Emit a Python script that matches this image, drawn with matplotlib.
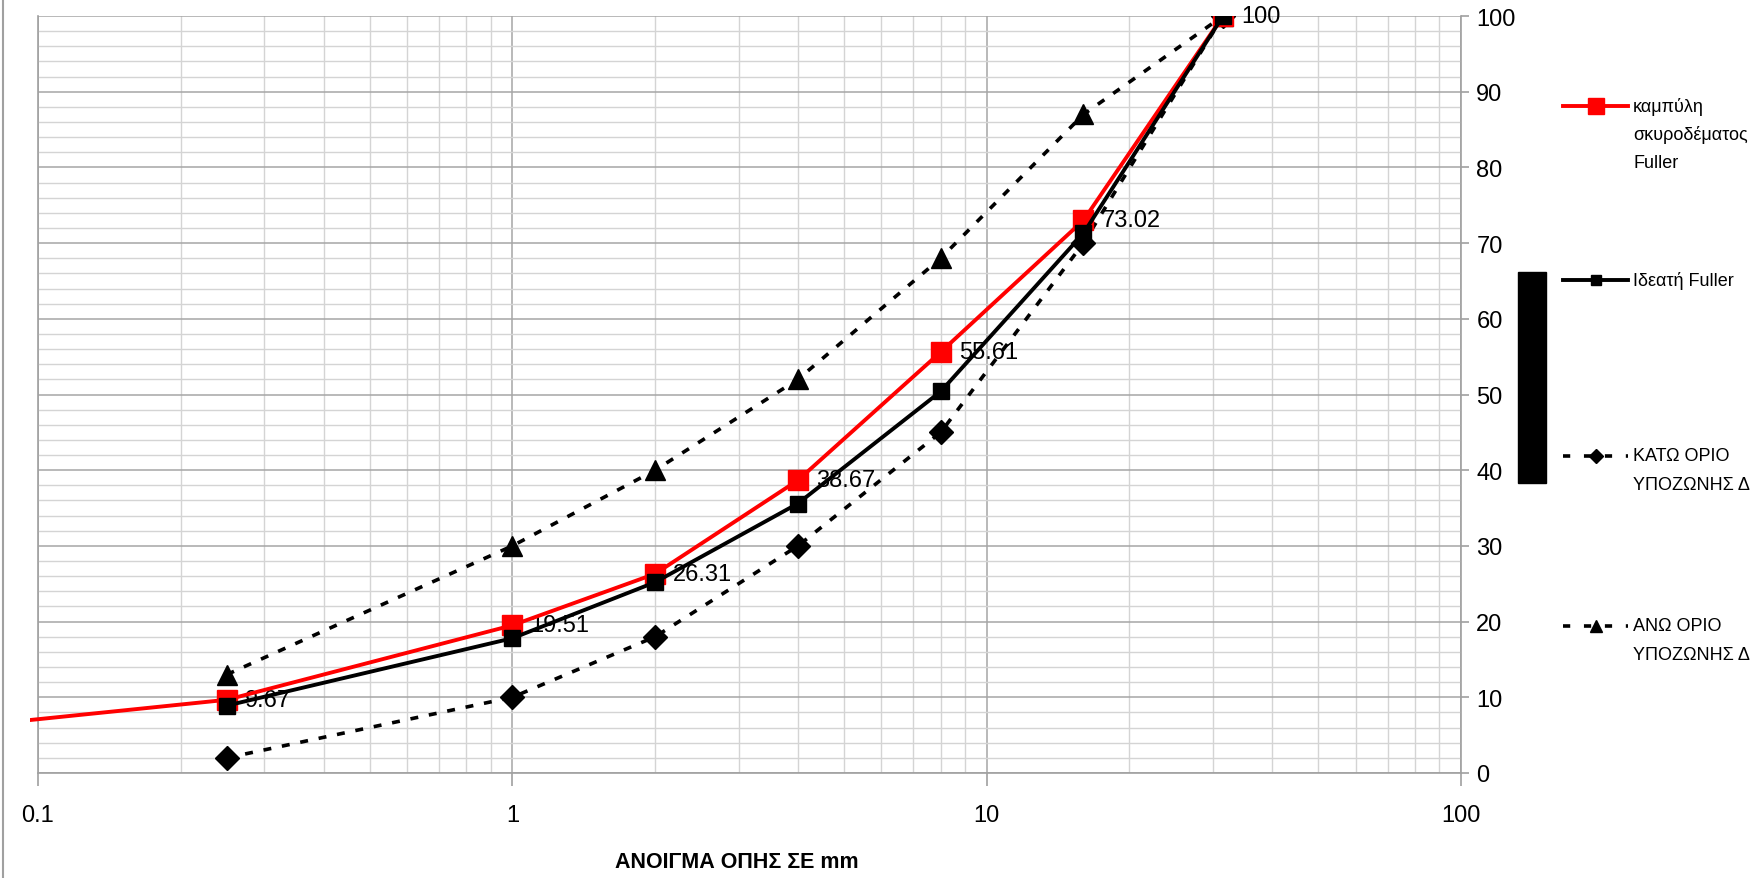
import numpy as np
import matplotlib
matplotlib.use("Agg")
import matplotlib.pyplot as plt
from matplotlib.lines import Line2D
from matplotlib.patches import Rectangle
from matplotlib.ticker import LogLocator, MultipleLocator, FixedLocator, FixedFormatter

plt.rcParams['font.family'] = ['Liberation Sans', 'DejaVu Sans']

# ανοίγματα κοσκίνων (mm)
kosk_mm = [0.25, 1, 2, 4, 8, 16, 31.5]
kosk_skyr = [0.075, 0.25, 1, 2, 4, 8, 16, 31.5]

skyrodema = [6.3, 9.67, 19.51, 26.31, 38.67, 55.61, 73.02, 100]
ideati_fuller = [8.9, 17.8, 25.2, 35.6, 50.4, 71.3, 100]
kato_orio = [2, 10, 18, 30, 45, 70, 100]
ano_orio = [13, 30, 40, 52, 68, 87, 100]

etiketes = ['9.67', '19.51', '26.31', '38.67', '55.61', '73.02', '100']

W, H = 1751, 879
fig = plt.figure(figsize=(W / 100, H / 100), dpi=100)
ax = fig.add_axes([38 / W, 1 - 774 / H, (1461 - 38) / W, (774 - 17) / H])

ax.set_xscale('log')
ax.set_xlim(0.1, 100)
ax.set_ylim(0, 100)

# πλέγμα
ax.xaxis.set_major_locator(FixedLocator([0.1, 1, 10, 100]))
ax.xaxis.set_major_formatter(FixedFormatter(['0.1', '1', '10', '100']))
ax.xaxis.set_minor_locator(LogLocator(base=10, subs=np.arange(2, 10)))
ax.xaxis.set_minor_formatter(FixedFormatter([]))
ax.yaxis.set_major_locator(MultipleLocator(10))
ax.yaxis.set_minor_locator(MultipleLocator(2))
ax.grid(which='major', color='#a6a6a6', lw=1.1, zorder=0)
ax.grid(which='minor', color='#d4d4d4', lw=1.0, zorder=0)
ax.set_axisbelow(True)

for s in ['left', 'bottom', 'right']:
    ax.spines[s].set_color('#a0a0a0')
    ax.spines[s].set_linewidth(1.2)
ax.spines['top'].set_visible(False)

ax.yaxis.tick_right()
ax.tick_params(axis='y', which='major', length=6, width=1.2, color='#a0a0a0',
               labelsize=17, pad=5)
ax.tick_params(axis='x', which='major', length=9, width=1.2, color='#a0a0a0',
               labelsize=17, pad=13)
ax.tick_params(which='minor', length=0)
ax.set_xlabel('ΑΝΟΙΓΜΑ ΟΠΗΣ ΣΕ mm', fontsize=15.5, fontweight='bold')
ax.xaxis.set_label_coords((737 - 38) / (1461 - 38), -(863 - 774) / (774 - 17))
ax.xaxis.label.set_va('center')

dash = (0, (2.2, 3.0))
ax.plot(kosk_mm, kato_orio, color='black', lw=2.6, ls=dash, marker='D', ms=12,
        zorder=3)
ax.plot(kosk_mm, ano_orio, color='black', lw=2.6, ls=dash, marker='^', ms=15,
        zorder=3)

red, = ax.plot(kosk_skyr, skyrodema, color='#ff0000', lw=2.8, marker='s', ms=15,
               markevery=list(range(1, len(kosk_skyr))), zorder=4)
clip = Rectangle((-0.0056, 0), 1.0056, 1, transform=ax.transAxes)
red.set_clip_path(clip)

ax.plot(kosk_mm, ideati_fuller, color='black', lw=2.8, marker='s', ms=12, zorder=5)

for x, y, t in zip(kosk_skyr[1:], skyrodema[1:], etiketes):
    ax.annotate(t, (x, y), xytext=(13, 0), textcoords='offset points',
                va='center', ha='left', fontsize=17, zorder=3.5)

# υπόμνημα
def fx(px):
    return px / W

def fy(py):
    return 1 - py / H

legend_items = [
    (107, dict(color='#ff0000', lw=2.8, marker='s', ms=11), ['καμπύλη', 'σκυροδέματος', 'Fuller']),
    (281, dict(color='black', lw=2.8, marker='s', ms=7), ['Ιδεατή Fuller']),
    (457, dict(color='black', lw=2.6, ls=(0, (2.0, 3.8)), marker='D', ms=7.5), ['ΚΑΤΩ ΟΡΙΟ', 'ΥΠΟΖΩΝΗΣ Δ']),
    (627, dict(color='black', lw=2.6, ls=(0, (2.0, 3.8)), marker='^', ms=9), ['ΑΝΩ ΟΡΙΟ', 'ΥΠΟΖΩΝΗΣ Δ']),
]
for py, style, lines in legend_items:
    lstyle = {k: v for k, v in style.items() if k in ('color', 'lw', 'ls')}
    fig.add_artist(Line2D([fx(1563), fx(1628)], [fy(py), fy(py)], **lstyle))
    mstyle = {k: v for k, v in style.items() if k in ('color', 'marker', 'ms')}
    fig.add_artist(Line2D([fx(1596)], [fy(py)], ls='none', **mstyle))
    for i, line in enumerate(lines):
        fig.text(fx(1633), fy(py + i * 28.5), line, fontsize=13, va='center', ha='left')

fig.add_artist(Rectangle((fx(1518), fy(484)), fx(1546) - fx(1518), fy(273) - fy(484),
                         transform=fig.transFigure, color='black'))
fig.add_artist(Line2D([fx(3), fx(3)], [0, 1], color='#a0a0a0', lw=1.5))

fig.savefig('out.png', dpi=100)
